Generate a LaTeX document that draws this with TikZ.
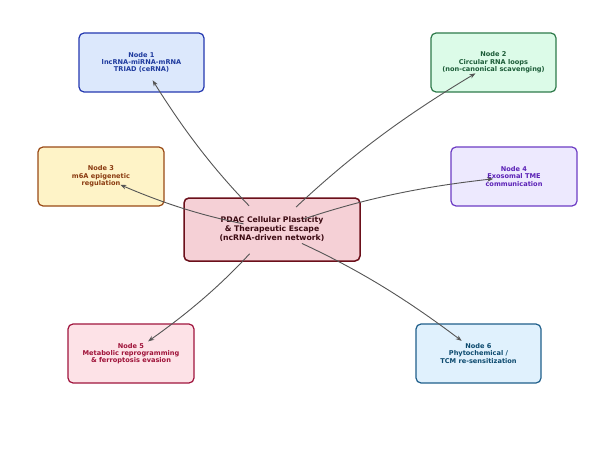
\documentclass[tikz,border=0pt]{standalone}
\usepackage{fontspec}
\setmainfont{DejaVu Sans}
\usetikzlibrary{arrows.meta}
\definecolor{fillA}{HTML}{DCE8FC}\definecolor{drawA}{HTML}{2438B0}\definecolor{textA}{HTML}{1E3A9E}
\definecolor{fillB}{HTML}{DCFBE8}\definecolor{drawB}{HTML}{2E7A4A}\definecolor{textB}{HTML}{1C5C38}
\definecolor{fillC}{HTML}{FEF3C7}\definecolor{drawC}{HTML}{9A4A16}\definecolor{textC}{HTML}{8A3A10}
\definecolor{fillD}{HTML}{EDE9FE}\definecolor{drawD}{HTML}{6D3CC4}\definecolor{textD}{HTML}{5B21B6}
\definecolor{fillE}{HTML}{F5D0D6}\definecolor{drawE}{HTML}{6B0F1A}\definecolor{textE}{HTML}{3B0A12}
\definecolor{fillF}{HTML}{FDE2E7}\definecolor{drawF}{HTML}{A0153E}\definecolor{textF}{HTML}{9F1239}
\definecolor{fillG}{HTML}{E0F1FD}\definecolor{drawG}{HTML}{1F5F8B}\definecolor{textG}{HTML}{0C4A6E}
\definecolor{edgecol}{HTML}{555555}
\tikzset{
  box/.style={rounded corners=5pt, line width=1.2pt, minimum width=125pt, minimum height=59pt,
    inner sep=0pt, align=center, font=\fontsize{6.6}{7.3}\selectfont\bfseries},
  hub/.style={rounded corners=5pt, line width=1.5pt, minimum width=176pt, minimum height=63pt,
    inner sep=0pt, align=center, font=\fontsize{7.7}{9}\selectfont\bfseries},
  edge/.style={draw=edgecol, line width=0.9pt, -{Stealth[length=6pt,width=4.5pt]},
    shorten <=33pt, shorten >=21pt}
}
\begin{document}
\begin{tikzpicture}[x=1pt,y=1pt]
\useasboundingbox[fill=white] (0,0) rectangle (595,459);
\node[box, fill=fillA, draw=drawA, text=textA] (n1) at (141.5,396.5) {Node 1\\lncRNA-miRNA-mRNA\\TRIAD (ceRNA)};
\node[box, fill=fillB, draw=drawB, text=textB] (n2) at (493.5,396.5) {Node 2\\Circular RNA loops\\(non-canonical scavenging)};
\node[box, fill=fillC, draw=drawC, text=textC, minimum width=126pt] (n3) at (101,282.5) {Node 3\\m6A epigenetic\\regulation};
\node[box, fill=fillD, draw=drawD, text=textD, minimum width=126pt] (n4) at (514,282.5) {Node 4\\Exosomal TME\\communication};
\node[hub, fill=fillE, draw=drawE, text=textE] (c) at (272,229.5) {PDAC Cellular Plasticity\\\& Therapeutic Escape\\(ncRNA-driven network)};
\node[box, fill=fillF, draw=drawF, text=textF, minimum width=126pt] (n5) at (131,105.5) {Node 5\\Metabolic reprogramming\\\& ferroptosis evasion};
\node[box, fill=fillG, draw=drawG, text=textG] (n6) at (478.5,105.5) {Node 6\\Phytochemical /\\TCM re-sensitization};
\draw[edge] (c.center) to[bend left=6] (n1.center);
\draw[edge] (c.center) to[bend left=6] (n2.center);
\draw[edge, shorten <=29pt] (c.center) to[bend left=6] (n3.center);
\draw[edge] (c.center) to[bend left=6] (n4.center);
\draw[edge] (c.center) to[bend left=6] (n5.center);
\draw[edge] (c.center) to[bend left=6] (n6.center);
\end{tikzpicture}
\end{document}
